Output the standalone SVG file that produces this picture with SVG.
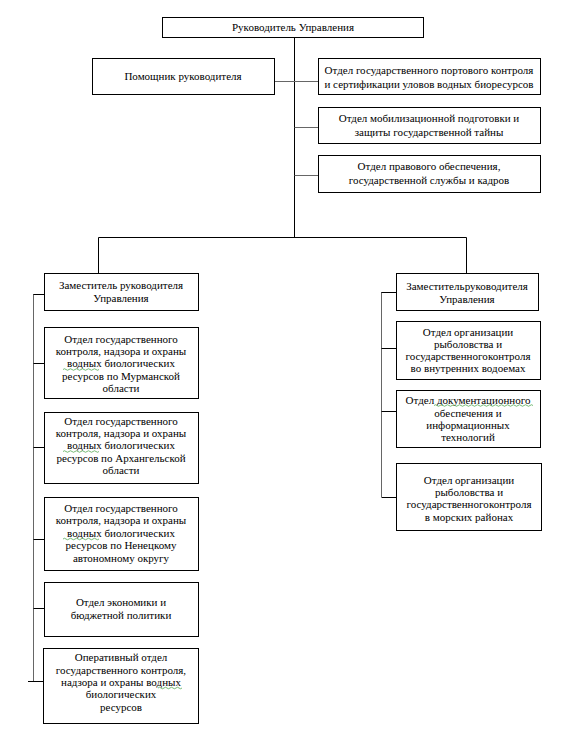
<svg xmlns="http://www.w3.org/2000/svg" width="572" height="736" viewBox="0 0 572 736">
<style>
.b{fill:#fff;stroke:#000;stroke-width:1}
text{font-family:"Liberation Serif","Times New Roman",serif;font-size:11px;fill:#000;text-anchor:middle}
.c{stroke:#000;stroke-width:1;fill:none}
.g{stroke:#666;stroke-width:1;fill:none}
.sq{stroke:#5a5;stroke-width:0.8;fill:none}
</style>
<rect width="572" height="736" fill="#fff"/>
<g id="connectors">
<path class="c" d="M294.5 37V237.5M98.5 237.5H466.5M98.5 237.5V273M466.5 237.5V273"/>
<path class="g" d="M274 81.5H318M294.5 127.5H318M294.5 175.5H318"/>
<path class="g" d="M33.5 294V681"/>
<path class="c" d="M33.5 294.5H44M33.5 363.5H44M33.5 447.5H44M33.5 539.5H44M33.5 608.5H44M28 681.5H43"/>
<path class="g" d="M381.5 292V497"/>
<path class="c" d="M381.5 292.5H396M381.5 348.5H396M381.5 411.5H396M381.5 497.5H396"/>
</g>
<g id="top"><rect class="b" x="162.5" y="17.5" width="261" height="20"/><text x="293" y="31">Руководитель Управления</text></g>
<g id="helper"><rect class="b" x="92.5" y="58.5" width="182" height="36"/><text x="183" y="80">Помощник руководителя</text></g>
<g id="rt1"><rect class="b" x="318.5" y="58.5" width="222" height="36"/><text x="429" y="73.5">Отдел государственного портового контроля</text><text x="429" y="87.5">и сертификации уловов водных биоресурсов</text></g>
<g id="rt2"><rect class="b" x="318.5" y="107.5" width="222" height="36"/><text x="429" y="121.5">Отдел мобилизационной подготовки и</text><text x="429" y="135.5">защиты государственной тайны</text></g>
<g id="rt3"><rect class="b" x="318.5" y="155.5" width="222" height="37"/><text x="429" y="169.5">Отдел правового обеспечения,</text><text x="429" y="183.5">государственной службы и кадров</text></g>
<g id="ld"><rect class="b" x="44.5" y="273.5" width="154" height="37"/><text x="121" y="288.5">Заместитель руководителя</text><text x="121" y="301.5">Управления</text></g>
<g id="la"><rect class="b" x="44.5" y="327.5" width="154" height="71"/><text x="121" y="342.5">Отдел государственного</text><text x="121" y="354.5">контроля, надзора и охраны</text><text x="121" y="367">водных биологических</text><text x="121" y="379.5">ресурсов по Мурманской</text><text x="121" y="392">области</text><path class="sq" d="M63 369.5q1.5-1.5 3 0t3 0 3 0 3 0 3 0 3 0 3 0 3 0 3 0 3 0 3 0 3 0"/></g>
<g id="lb"><rect class="b" x="44.5" y="412.5" width="154" height="71"/><text x="121" y="424.5">Отдел государственного</text><text x="121" y="436.5">контроля, надзора и охраны</text><text x="121" y="449">водных биологических</text><text x="121" y="461.5">ресурсов по Архангельской</text><text x="121" y="474">области</text><path class="sq" d="M63 451.5q1.5-1.5 3 0t3 0 3 0 3 0 3 0 3 0 3 0 3 0 3 0 3 0 3 0 3 0"/></g>
<g id="lc"><rect class="b" x="44.5" y="497.5" width="154" height="73"/><text x="121" y="511.5">Отдел государственного</text><text x="121" y="524">контроля, надзора и охраны</text><text x="121" y="536.5">водных биологических</text><text x="121" y="549">ресурсов по Ненецкому</text><text x="121" y="561.5">автономному округу</text><path class="sq" d="M63 539q1.5-1.5 3 0t3 0 3 0 3 0 3 0 3 0 3 0 3 0 3 0 3 0 3 0 3 0"/></g>
<g id="ldd"><rect class="b" x="44.5" y="582.5" width="154" height="54"/><text x="121" y="605.5">Отдел экономики и</text><text x="121" y="618.5">бюджетной политики</text></g>
<g id="le"><rect class="b" x="43.5" y="648.5" width="155" height="75"/><text x="121" y="660.5">Оперативный отдел</text><text x="121" y="673.5">государственного контроля,</text><text x="121" y="685.5">надзора и охраны водных</text><text x="121" y="698">биологических</text><text x="121" y="710.5">ресурсов</text><path class="sq" d="M158 688q1.5-1.5 3 0t3 0 3 0 3 0 3 0 3 0 3 0 3 0"/></g>
<g id="rd"><rect class="b" x="396.5" y="273.5" width="142" height="37"/><text x="467" y="289.5" style="word-spacing:-2.5px">Заместитель руководителя</text><text x="467" y="302.5">Управления</text></g>
<g id="r1"><rect class="b" x="396.5" y="321.5" width="144" height="58"/><text x="468" y="335.5">Отдел организации</text><text x="468" y="347.5">рыболовства и</text><text x="468" y="360" style="word-spacing:-2.5px">государственного контроля</text><text x="468" y="372">во внутренних водоемах</text></g>
<g id="r2"><rect class="b" x="396.5" y="390.5" width="144" height="57"/><text x="468" y="403.5">Отдел документационного</text><text x="468" y="416.5">обеспечения и</text><text x="468" y="429">информационных</text><text x="468" y="441">технологий</text><path class="sq" d="M434 405.5q1.5-1.5 3 0t3 0 3 0 3 0 3 0 3 0 3 0 3 0 3 0 3 0 3 0 3 0 3 0 3 0 3 0 3 0 3 0 3 0 3 0 3 0 3 0 3 0 3 0 3 0 3 0 3 0 3 0 3 0 3 0 3 0 3 0 3 0 3 0"/></g>
<g id="r3"><rect class="b" x="396.5" y="463.5" width="145" height="67"/><text x="469" y="483.5">Отдел организации</text><text x="469" y="495.5">рыболовства и</text><text x="469" y="508" style="word-spacing:-2.5px">государственного контроля</text><text x="469" y="520.5">в морских районах</text></g>
</svg>
